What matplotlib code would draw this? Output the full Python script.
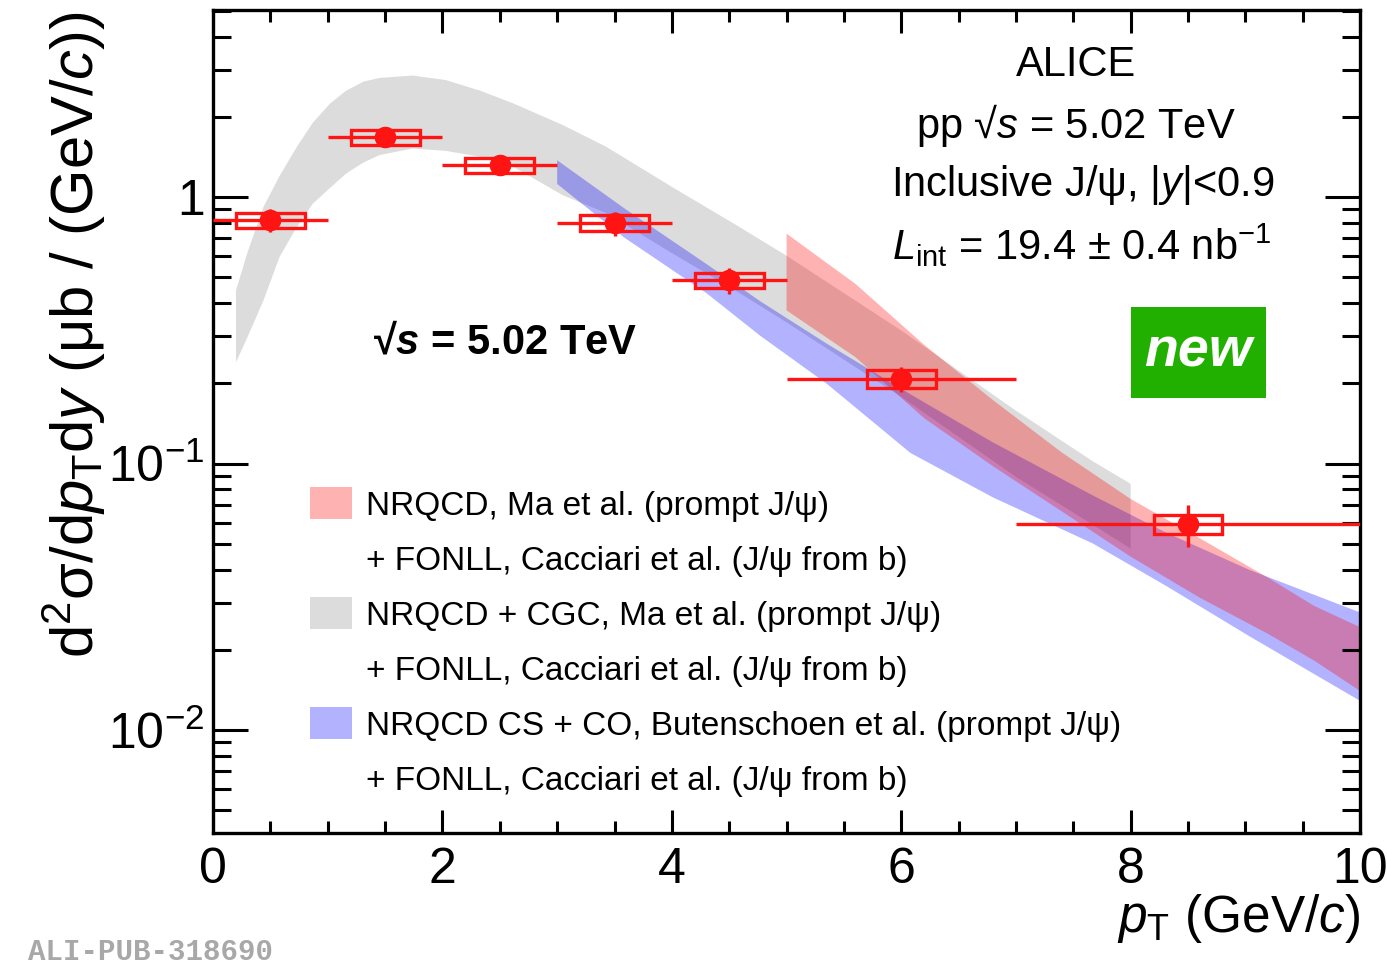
import matplotlib
matplotlib.use('Agg')
import matplotlib.pyplot as plt
from matplotlib.patches import Rectangle, Patch
from matplotlib.ticker import FixedLocator, MultipleLocator, LogLocator, NullFormatter

plt.rcParams['font.family'] = ['Liberation Sans', 'DejaVu Sans']
plt.rcParams['mathtext.fontset'] = 'custom'
plt.rcParams['mathtext.rm'] = 'Liberation Sans'
plt.rcParams['mathtext.it'] = 'Liberation Sans:italic'
plt.rcParams['mathtext.bf'] = 'Liberation Sans:bold'
plt.rcParams['mathtext.bfit'] = 'Liberation Sans:bold:italic'

# ALICE inclusive J/psi cross section, pp at 5.02 TeV, |y| < 0.9
pt = [0.5, 1.5, 2.5, 3.5, 4.5, 6.0, 8.5]
pt_lo = [0.5, 0.5, 0.5, 0.5, 0.5, 1.0, 1.5]
pt_hi = [0.5, 0.5, 0.5, 0.5, 0.5, 1.0, 1.5]
xsec = [0.82, 1.685, 1.32, 0.80, 0.488, 0.208, 0.0593]
stat = [0.082, 0.08, 0.06, 0.082, 0.054, 0.023, 0.0105]
syst = [0.053, 0.11, 0.09, 0.054, 0.033, 0.016, 0.0047]

# NRQCD + CGC (Ma et al.) + FONLL
cgc_pt = [0.2, 0.3, 0.44, 0.58, 0.73, 0.87, 1.02, 1.16, 1.31, 1.45, 1.74, 2.03,
          2.33, 2.62, 3.05, 3.43, 4.0, 4.59, 5.0, 6.0, 7.0, 7.67, 8.0]
cgc_hi = [0.447, 0.620, 0.920, 1.202, 1.545, 1.905, 2.249, 2.512, 2.716, 2.805, 2.864, 2.754,
          2.512, 2.249, 1.866, 1.545, 1.094, 0.773, 0.603, 0.316, 0.158, 0.102, 0.0839]
cgc_lo = [0.240, 0.298, 0.410, 0.597, 0.773, 0.946, 1.084, 1.227, 1.349, 1.439, 1.524, 1.493,
          1.419, 1.300, 1.017, 0.871, 0.617, 0.437, 0.339, 0.178, 0.0891, 0.0589, 0.0479]

# NRQCD CS + CO (Butenschoen et al.) + FONLL
cs_pt = [3.0, 3.58, 4.3, 4.77, 5.35, 6.08, 6.8, 7.67, 8.31, 9.04, 10.0]
cs_hi = [1.377, 0.912, 0.562, 0.407, 0.282, 0.182, 0.120, 0.0759, 0.0550, 0.0398, 0.0276]
cs_lo = [1.122, 0.708, 0.437, 0.302, 0.1995, 0.1096, 0.0746, 0.0501, 0.0347, 0.0224, 0.01285]

# NRQCD (Ma et al.) + FONLL
ma_pt = [5.0, 5.6, 6.2, 6.8, 7.4, 8.0, 8.6, 9.2, 9.6, 10.0]
ma_hi = [0.730, 0.473, 0.279, 0.173, 0.110, 0.0736, 0.0525, 0.0372, 0.0292, 0.0243]
ma_lo = [0.376, 0.251, 0.148, 0.0977, 0.0661, 0.0447, 0.0314, 0.0229, 0.0182, 0.0140]

xticks = [0, 2, 4, 6, 8, 10]
yticks = [0.01, 0.1, 1]
ytick_labels = [r'$10^{-2}$', r'$10^{-1}$', '1']

legend_labels = ['NRQCD, Ma et al. (prompt J/ψ)',
                 '+ FONLL, Cacciari et al. (J/ψ from b)',
                 'NRQCD + CGC, Ma et al. (prompt J/ψ)',
                 '+ FONLL, Cacciari et al. (J/ψ from b)',
                 'NRQCD CS + CO, Butenschoen et al. (prompt J/ψ)',
                 '+ FONLL, Cacciari et al. (J/ψ from b)']

red = '#ff1414'

fig = plt.figure(figsize=(13.87, 9.66), dpi=100)
ax = fig.add_axes([0.1536, 0.1377, 0.8270, 0.8520])

# model bands
ax.fill_between(cgc_pt, cgc_lo, cgc_hi, facecolor='#a0a0a0', alpha=0.36, lw=0)
ax.fill_between(cs_pt, cs_lo, cs_hi, facecolor='blue', alpha=0.3, lw=0)
ax.fill_between(ma_pt, ma_lo, ma_hi, facecolor='red', alpha=0.3, lw=0)

# data: systematic boxes + statistical bars
for p, v, s in zip(pt, xsec, syst):
    ax.add_patch(Rectangle((p - 0.3, v - s), 0.6, 2 * s, fill=False,
                           edgecolor=red, lw=2.4, zorder=4))
ax.errorbar(pt, xsec, xerr=[pt_lo, pt_hi], yerr=stat, fmt='o', color=red,
            ms=14.5, elinewidth=2.4, capsize=0, zorder=5)

ax.set_yscale('log')
ax.set_xlim(0, 10)
ax.set_ylim(0.0041, 5.05)

ax.xaxis.set_major_locator(FixedLocator(xticks))
ax.xaxis.set_minor_locator(MultipleLocator(0.5))
ax.set_yticks(yticks, labels=ytick_labels)
ax.yaxis.set_minor_locator(LogLocator(base=10, subs=range(2, 10)))
ax.yaxis.set_minor_formatter(NullFormatter())

ax.tick_params(which='both', direction='in', top=True, right=True, width=2.2)
ax.tick_params(axis='x', which='major', length=16.5, labelsize=36, pad=10)
ax.tick_params(axis='x', which='minor', length=8.6)
ax.tick_params(axis='y', which='major', length=25, labelsize=36, pad=6)
ax.tick_params(axis='y', which='minor', length=13)
for sp in ax.spines.values():
    sp.set_linewidth(2.4)

ax.set_xlabel(r'$p_{\mathrm{T}}$ (GeV/$c$)', fontsize=37, ha='right')
ax.xaxis.set_label_coords(1.0, -0.072)
ax.set_ylabel('d$^{2}$σ/d$p_{\\mathrm{T}}$d$y$ (μb / (GeV/$c$))', fontsize=43)
ax.yaxis.set_label_coords(-0.092, 0.605)

# legend
handles = [Patch(facecolor='red', alpha=0.3, lw=0), Patch(fc='none', ec='none'),
           Patch(facecolor='#a0a0a0', alpha=0.36, lw=0), Patch(fc='none', ec='none'),
           Patch(facecolor='blue', alpha=0.3, lw=0), Patch(fc='none', ec='none')]
ax.legend(handles, legend_labels, loc='upper left', bbox_to_anchor=(0.0846, 0.420),
          frameon=False, fontsize=24, borderpad=0, borderaxespad=0,
          handlelength=1.27, handleheight=1.1, handletextpad=0.42, labelspacing=0.62)

# labels
tx = 0.752
ax.text(tx, 0.933, 'ALICE', transform=ax.transAxes, ha='center', va='center', fontsize=30)
ax.text(tx, 0.860, 'pp √$s$ = 5.02 TeV', transform=ax.transAxes, ha='center', va='center', fontsize=30)
ax.text(tx + 0.006, 0.787, 'Inclusive J/ψ, |$y$|<0.9', transform=ax.transAxes,
        ha='center', va='center', fontsize=30)
ax.text(tx + 0.005, 0.714, r'$L_{\mathrm{int}}$ = 19.4 ± 0.4 nb$^{-1}$', transform=ax.transAxes,
        ha='center', va='center', fontsize=30)
ax.text(0.2546, 0.595, '√$\\mathbfit{s}$ = 5.02 TeV', transform=ax.transAxes,
        ha='center', va='center', fontsize=30, fontweight='bold')

ax.add_patch(Rectangle((0.800, 0.5286), 0.118, 0.1104, transform=ax.transAxes,
                       facecolor='#22b000', edgecolor='none', zorder=6))
ax.text(0.859, 0.584, 'new', transform=ax.transAxes, ha='center', va='center',
        fontsize=40, fontweight='bold', fontstyle='italic', color='white', zorder=7)

fig.text(28 / 1387, 1 - 952 / 966, 'ALI-PUB-318690', ha='left', va='center',
         fontsize=21, family='Liberation Mono', fontweight='bold', color='#a8a8a8')

fig.savefig('out.png', dpi=100)
